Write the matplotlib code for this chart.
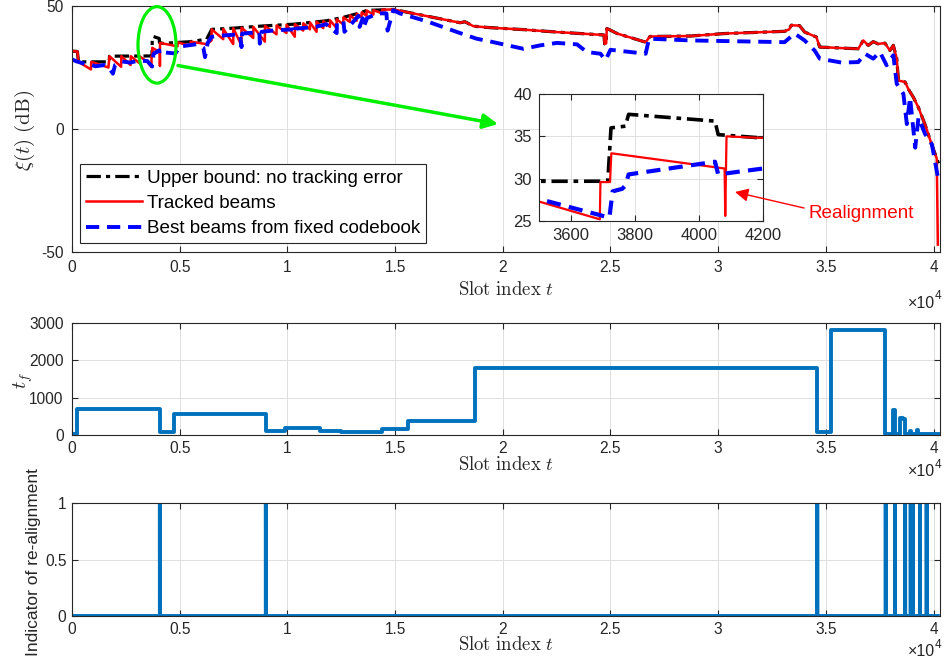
import numpy as np
import matplotlib
matplotlib.use('Agg')
import matplotlib.pyplot as plt
from matplotlib.patches import Ellipse
from matplotlib.ticker import FuncFormatter

plt.rcParams['font.family'] = ['Liberation Sans', 'DejaVu Sans']
plt.rcParams['mathtext.fontset'] = 'cm'
plt.rcParams['axes.unicode_minus'] = False

# ---------------- data ----------------
black_t = [0, 250, 300, 1730, 1740, 3715, 3725, 3770, 3780, 4050, 4060, 4200, 5500, 6250,
           6485, 7500, 8728, 10275, 11824, 12598, 13370, 13680, 14918, 16466, 18014, 18246,
           18633, 19406, 20960, 22516, 24535, 24700, 24730, 24800, 24830, 24900, 25311, 26634,
           26834, 28733, 30288, 33083, 33300, 33395, 33780, 34015, 34558, 34717, 36505, 36737,
           36970, 37200, 37430, 37743, 37976, 38134, 38291, 38370, 38680, 38837, 39070, 39300,
           39610, 39922, 40150, 40230]
black_v = [31.7, 31.5, 27.3, 27.3, 29.6, 29.7, 36.0, 36.2, 37.6, 36.8, 35.2, 34.8, 35.5, 36.5,
           40.5, 41.0, 41.8, 42.6, 44.0, 45.4, 47.2, 48.2, 48.6, 45.9, 43.2, 43.6,
           41.8, 41.2, 40.4, 39.4, 38.3, 38.2, 34.6, 34.8, 40.8, 40.6, 38.8, 35.3,
           37.6, 37.8, 38.8, 39.7, 40.5, 42.2, 42.0, 39.4, 37.4, 33.3, 32.6, 36.0,
           34.0, 35.5, 34.6, 34.9, 31.9, 34.0, 28.6, 19.7, 19.1, 16.1, 12.8, 8.7,
           1.7, -6.5, -12.0, -14.0]

red_t = [0, 250, 300, 880, 890, 1690, 1740, 2280, 2290, 2720, 2730, 3120, 3130, 3500, 3690,
         3692, 3722, 3726, 4080, 4082, 4086, 4200, 4900, 4910, 5500, 5510, 6250, 6480, 6485,
         7020, 7025, 7485, 7490, 7865, 7870, 8415, 8420, 8955, 8960, 9495, 9500, 9955, 9960,
         10345, 10350, 10735, 10740, 11045, 11050, 11355, 11360, 11665, 11670, 11975, 11980,
         12285, 12290, 12595, 12600, 12905, 12910, 13215, 13220, 13445, 13450, 13675, 13680,
         13995, 14000, 14395, 14400, 14918, 16466, 18014, 18246, 18633, 19406, 20960, 22516,
         24535, 24700, 24730, 24800, 24830, 24900, 25311, 26634, 26834, 28733, 30288, 33083,
         33300, 33395, 33780, 34015, 34558, 34717, 36505, 36737, 36970, 37200, 37430, 37743,
         37976, 38134, 38291, 38370, 38680, 38837, 39070, 39300, 39610, 39922, 40150, 40200]
red_v = [31.7, 31.5, 27.3, 24.2, 27.3, 25.0, 29.6, 25.3, 29.6, 26.0, 29.6, 26.8, 29.6, 27.3, 25.2,
         29.6, 29.6, 33.0, 31.2, 25.6, 35.0, 34.8, 33.6, 35.2, 33.8, 35.5, 34.5, 36.0, 40.5,
         36.5, 40.7, 34.5, 41.0, 34.0, 41.2, 37.0, 41.5, 35.5, 41.9, 38.5, 42.1, 39.0, 42.4,
         37.5, 42.6, 40.0, 43.0, 40.5, 43.3, 39.5, 43.6, 41.0, 43.8, 41.5, 44.2,
         41.0, 44.6, 42.5, 45.4, 43.5, 46.2, 44.0, 46.9, 45.5, 47.4, 46.0, 48.2,
         46.5, 48.3, 47.0, 48.5, 48.6, 45.9, 43.2, 43.6, 41.8, 41.2, 40.4, 39.4,
         38.3, 38.2, 34.6, 34.8, 40.8, 40.6, 38.8, 35.3, 37.6, 37.8, 38.8, 39.7,
         40.5, 42.2, 42.0, 39.4, 37.4, 33.3, 32.6, 36.0, 34.0, 35.5, 34.6, 34.9,
         31.9, 34.0, 28.6, 19.7, 19.1, 16.1, 12.8, 8.7, 1.7, -6.5, -12.0, -47.0]

blue_t = [0, 200, 600, 900, 1100, 1500, 1700, 1900, 2000, 2300, 2700, 3100, 3500, 3700, 3720,
          3730, 3760, 3770, 3780, 4050, 4060, 4200, 4800, 5000, 5800, 6100, 6175, 6300, 6485,
          7000, 7800, 7870, 7900, 8500, 8700, 8720, 8800, 9500, 10300, 10350, 10400, 11300,
          11800, 12290, 12300, 12600, 12650, 13300, 13350, 13500, 13550, 13700, 14200, 14600,
          14650, 14918, 15220, 16466, 18014, 18790, 19406, 20960, 21740, 22516, 23450, 23900,
          24535, 24770, 25000, 26634, 26790, 28733, 33083, 33550, 34015, 34480, 34717, 35730,
          36505, 36815, 37200, 37510, 37820, 38134, 38291, 38600, 38760, 38910, 39150, 39300,
          39610, 39922, 40230]
blue_v = [28.3, 27.5, 26.5, 26.0, 25.5, 26.0, 25.0, 22.5, 26.0, 27.5, 27.0, 27.8, 27.6, 25.6, 25.4,
          28.5, 28.8, 29.2, 30.5, 32.0, 30.5, 31.2, 30.7, 33.5, 34.5, 33.0, 29.2, 35.0, 37.5,
          38.0, 38.5, 33.3, 38.8, 39.2, 39.4, 34.7, 39.5, 40.2, 40.5, 38.8, 40.8, 41.5,
          42.6, 39.0, 43.0, 44.0, 39.5, 46.0, 41.5, 45.0, 41.5, 45.1, 47.0, 47.0,
          40.0, 48.3, 47.0, 43.8, 39.0, 36.7, 35.6, 32.6, 34.0, 35.0, 34.4, 31.3,
          30.6, 28.0, 32.2, 30.6, 36.7, 36.0, 35.3, 38.8, 36.0, 31.9, 28.6, 27.0,
          27.2, 30.6, 28.6, 31.3, 25.9, 30.0, 18.4, 14.3, 2.0, 12.8, -7.6, 4.7,
          -2.1, -6.2, -21.0]

# t_f: change points and held values
tf_t = [0, 220, 4080, 4750, 9000, 9880, 11510, 12480, 14370, 15600, 18730, 34600, 35220,
        37730, 38130, 38190, 38440, 38560, 38660, 38900, 38960, 39240, 39300, 40200]
tf_v = [30, 690, 90, 550, 100, 195, 110, 70, 150, 370, 1785, 70, 2800,
        30, 660, 40, 460, 420, 40, 100, 40, 130, 30, 30]

# slots where re-alignment happens
realign_t = [4080, 9000, 34600, 37780, 38210, 38680, 38940, 39030, 39370, 39680]
n_slots = 40200

# ---------------- figure ----------------
W, H = 946, 664
fig = plt.figure(figsize=(W / 100, H / 100), dpi=100)

def rect(l, t, r, b):
    return [l / W, 1 - b / H, (r - l) / W, (b - t) / H]

AXC = '#262626'

def style(ax, fs=11.2):
    ax.tick_params(direction='in', top=True, right=True, length=4, width=0.8,
                   colors=AXC, labelsize=fs, pad=6)
    for s in ax.spines.values():
        s.set_color(AXC)
        s.set_linewidth(0.8)
    ax.grid(True, color='#dedede', lw=0.7)
    ax.set_axisbelow(True)

xfmt = FuncFormatter(lambda v, p: f'{v / 1e4:g}')
gfmt = FuncFormatter(lambda v, p: f'{v:g}')
XMAX = 40300

ax1 = fig.add_axes(rect(72, 6, 940, 252))
ax2 = fig.add_axes(rect(72, 323, 940, 435))
ax3 = fig.add_axes(rect(72, 503, 940, 616))

def draw_series(ax, lwk=2.3, lwr=1.8, lwb=2.8):
    l1, = ax.plot(black_t, black_v, color='k', lw=lwk, dashes=[4.5, 1.6, 1.3, 1.6],
                  label='Upper bound: no tracking error')
    l2, = ax.plot(red_t, red_v, color='#FF0000', lw=lwr, label='Tracked beams')
    l3, = ax.plot(blue_t, blue_v, color='#0000FF', lw=lwb, dashes=[3.4, 2.0],
                  label='Best beams from fixed codebook')
    return l1, l2, l3

handles = draw_series(ax1)
ax1.set_xlim(0, XMAX)
ax1.set_ylim(-50, 50)
ax1.set_yticks([-50, 0, 50])
ax1.set_xticks(np.arange(0, 40001, 5000))
ax1.xaxis.set_major_formatter(xfmt)
style(ax1)

leg = ax1.legend(handles=handles, loc='upper left', bbox_to_anchor=(0.0092, 0.358),
                 fontsize=13.6, frameon=True, fancybox=False, framealpha=1,
                 edgecolor=AXC, handlelength=3.0, labelspacing=0.42, borderpad=0.3,
                 handletextpad=0.25, borderaxespad=0)
leg.get_frame().set_linewidth(0.8)

# green ellipse and arrow
ell = Ellipse((3946, 34.2), width=1764, height=31.1, fill=False, ec='#00EE00', lw=2.3,
              clip_on=False, zorder=5)
ax1.add_patch(ell)
ax1.annotate('', xy=(19777, 2), xytext=(4921, 25.8),
             arrowprops=dict(arrowstyle='-|>', color='#00EE00', lw=2.5, mutation_scale=22,
                             shrinkA=0, shrinkB=0), zorder=5)

# inset
axin = fig.add_axes(rect(539, 94, 763, 221))
draw_series(axin, lwk=2.6, lwr=1.6, lwb=3.0)
axin.set_xlim(3500, 4200)
axin.set_ylim(25, 40)
axin.set_xticks([3600, 3800, 4000, 4200])
axin.set_yticks([25, 30, 35, 40])
style(axin, fs=12)
axin.tick_params(pad=5)
axin.set_facecolor('white')

# realignment annotation
fig.text(808 / W, 1 - 213 / H, 'Realignment', color='#FF0000', fontsize=13.6,
         ha='left', va='center')
fig.add_artist(matplotlib.patches.FancyArrowPatch(
    (804 / W, 1 - 208 / H), (735 / W, 1 - 192 / H), transform=fig.transFigure,
    arrowstyle='-|>', mutation_scale=20, color='#FF0000', lw=1.0, shrinkA=0, shrinkB=0))

# middle: t_f
ax2.plot(tf_t, tf_v, drawstyle='steps-post', color='#0072BD', lw=2.8)
ax2.set_xlim(0, XMAX)
ax2.set_ylim(0, 3000)
ax2.set_yticks([0, 1000, 2000, 3000])
ax2.set_xticks(np.arange(0, 40001, 5000))
ax2.xaxis.set_major_formatter(xfmt)
style(ax2)
ax2.tick_params(axis='x', pad=4)

# bottom: indicator
slots = np.arange(n_slots + 1)
ind = np.zeros_like(slots, dtype=float)
ind[np.array(realign_t)] = 1.0
ax3.plot(slots, ind, color='#0072BD', lw=2.8)
ax3.set_xlim(0, XMAX)
ax3.set_ylim(0, 1)
ax3.set_yticks([0, 0.5, 1])
ax3.yaxis.set_major_formatter(gfmt)
ax3.set_xticks(np.arange(0, 40001, 5000))
ax3.xaxis.set_major_formatter(xfmt)
style(ax3)
ax3.tick_params(axis='x', pad=4)
ax3.tick_params(axis='y', pad=4)

# labels
lab = dict(fontsize=13.5, color=AXC)
fig.text(506 / W, 1 - 290 / H, r'$\mathrm{Slot\ index}\ t$', ha='center', va='center', **lab)
fig.text(506 / W, 1 - 465 / H, r'$\mathrm{Slot\ index}\ t$', ha='center', va='center', **lab)
fig.text(506 / W, 1 - 645 / H, r'$\mathrm{Slot\ index}\ t$', ha='center', va='center', **lab)
fig.text(25 / W, 1 - 130 / H, r'$\xi(t)\ \mathrm{(dB)}$', rotation=90, ha='center',
         va='center', fontsize=15, color=AXC)
fig.text(23 / W, 1 - 380 / H, r'$t_f$', rotation=90, ha='center', va='center',
         fontsize=14.5, color=AXC)
fig.text(34 / W, 1 - 562 / H, 'Indicator of re-alignment', rotation=90, ha='center',
         va='center', fontsize=12.5, color=AXC)

for yb in (303, 472, 652):
    fig.text(935 / W, 1 - yb / H, '×10', ha='right', va='center', fontsize=11.5, color=AXC)
    fig.text(935 / W, 1 - (yb - 7) / H, '4', ha='left', va='center', fontsize=8.5, color=AXC)

fig.savefig('out.png', dpi=100)
